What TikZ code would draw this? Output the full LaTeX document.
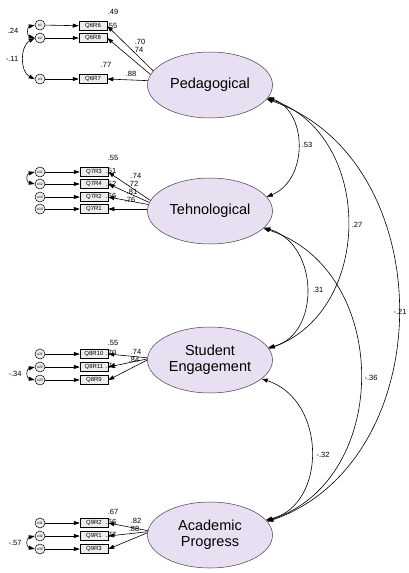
\documentclass[tikz,border=0pt]{standalone}
\usepackage{fontspec}
\setmainfont{Liberation Sans}
\usetikzlibrary{shapes.geometric,arrows.meta}
\definecolor{latfill}{HTML}{E8E0F2}
\definecolor{obsfill}{HTML}{EDEDED}
\begin{document}
\begin{tikzpicture}[x=1pt,y=-1pt,
  lat/.style={ellipse, draw=black!75, line width=0.5pt, fill=latfill, minimum width=125pt, minimum height=66pt, inner sep=0pt, font=\fontsize{14.5}{16}\selectfont, align=center},
  obs/.style={rectangle, draw, line width=0.5pt, fill=obsfill, minimum width=28pt, minimum height=9pt, inner sep=0pt, font=\fontsize{6}{6}\selectfont},
  err/.style={circle, draw, line width=0.5pt, fill=obsfill, minimum size=10pt, inner sep=0pt, font=\fontsize{3.5}{4}\selectfont},
  lbl/.style={font=\fontsize{7.5}{8}\selectfont, inner sep=0pt},
  arr/.style={-{Triangle[length=6pt,width=4pt]}, line width=0.6pt},
  cov/.style={{Triangle[length=6pt,width=4pt]}-{Triangle[length=6pt,width=4pt]}, line width=0.6pt}]
\useasboundingbox (0,0) rectangle (408,573);
\fill[white] (0,0) rectangle (408,573);

% latent variables
\node[lat] (P) at (210,85) {Pedagogical};
\node[lat] (T) at (210,211) {Tehnological};
\node[lat] (S) at (210,360) {Student\\Engagement};
\node[lat] (A) at (210,535) {Academic\\Progress};

% observed variables
\node[obs] (q66) at (93,26) {Q6R6};
\node[obs] (q68) at (93,38) {Q6R8};
\node[obs] (q67) at (93,79) {Q6R7};
\node[obs] (q73) at (94,172) {Q7R3};
\node[obs] (q74) at (94,184) {Q7R4};
\node[obs] (q72) at (94,197) {Q7R2};
\node[obs] (q71) at (94,209) {Q7R1};
\node[obs] (q810) at (94,354) {Q8R10};
\node[obs] (q811) at (94,367) {Q8R11};
\node[obs] (q89) at (94,380) {Q8R9};
\node[obs] (q92) at (94,523) {Q9R2};
\node[obs] (q91) at (94,536) {Q9R1};
\node[obs] (q93) at (94,549) {Q9R3};

% error terms
\node[err] (e1) at (40,25) {e1};
\node[err] (e2) at (40,38) {e2};
\node[err] (e3) at (40,79) {e3};
\node[err] (e11) at (40,172) {e11};
\node[err] (e12) at (40,184) {e12};
\node[err] (e13) at (40,197) {e13};
\node[err] (e14) at (40,209) {e14};
\node[err] (e21) at (40,354) {e21};
\node[err] (e22) at (40,367) {e22};
\node[err] (e23) at (40,380) {e23};
\node[err] (e31) at (40,523) {e31};
\node[err] (e32) at (40,536) {e32};
\node[err] (e33) at (40,549) {e33};

% error -> indicator
\foreach \e/\q in {e1/q66,e2/q68,e3/q67,e11/q73,e12/q74,e13/q72,e14/q71,e21/q810,e22/q811,e23/q89,e31/q92,e32/q91,e33/q93}
  \draw[arr] (\e) -- (\q);

% factor -> indicator
\draw[arr] (P.166) -- (q66.east);
\draw[arr] (P.170) -- (q68.east);
\draw[arr] (P.176) -- (q67.east);
\draw[arr] (T.170) -- (q73.east);
\draw[arr] (T.172) -- (q74.east);
\draw[arr] (T.174) -- (q72.east);
\draw[arr] (T.west |- q71.east) -- (q71.east);
\draw[arr] (S.178) -- (q810.east);
\draw[arr] (S.179) -- (q811.east);
\draw[arr] (S.180) -- (q89.east);
\draw[arr] (A.176) -- (q92.east);
\draw[arr] (A.177) -- (q91.east);
\draw[arr] (A.178) -- (q93.east);

% error covariances
\draw[cov] (e1.west) .. controls (27,27) and (27,36) .. (e2.west);
\draw[cov] (e2.west) .. controls (20,46) and (20,72) .. (e3.west);
\draw[cov] (e11.west) .. controls (26,174) and (26,182) .. (e12.west);
\draw[cov] (e22.west) .. controls (26,369) and (26,378) .. (e23.west);
\draw[cov] (e32.west) .. controls (26,538) and (26,547) .. (e33.west);

% factor covariances
\draw[cov] (P.-12) .. controls (308,112) and (308,180) .. (T.14);
\draw[cov] (P.-13) .. controls (374,135) and (374,310) .. (S.11);
\draw[cov] (P.-14) .. controls (442,160) and (442,460) .. (A.13);
\draw[cov] (T.-17) .. controls (320,245) and (320,335) .. (S.12);
\draw[cov] (T.-18) .. controls (392,270) and (392,480) .. (A.14);
\draw[cov] (S.-20) .. controls (327,400) and (327,505) .. (A.15);

% labels: error covariances
\node[lbl] (l1) at (13,31) {.24};
\node[lbl] (l2) at (12,59) {-.11};
\node[lbl] (l3) at (15,374) {-.34};
\node[lbl] (l4) at (15,543) {-.57};

% labels: R squared
\node[lbl] (r1) at (113,12) {.49};
\node[lbl] (r2) at (112,26) {.55};
\node[lbl] (r3) at (106,65) {.77};
\node[lbl] (r4) at (113,158) {.55};
\node[lbl] (r5) at (111,171) {.51};
\node[lbl] (r6) at (111,184) {.52};
\node[lbl] (r7) at (111,196) {.66};
\node[lbl] (r8) at (113,343) {.55};
\node[lbl] (r9) at (111,353) {.70};
\node[lbl] (r10) at (111,366) {.71};
\node[lbl] (r11) at (113,512) {.67};
\node[lbl] (r12) at (111,522) {.66};
\node[lbl] (r13) at (111,535) {.77};

% labels: loadings
\node[lbl] (w1) at (140,42) {.70};
\node[lbl] (w2) at (138,50) {.74};
\node[lbl] (w3) at (131,74) {.88};
\node[lbl] (w4) at (136,176) {.74};
\node[lbl] (w5) at (133,184) {.72};
\node[lbl] (w6) at (132,192) {.81};
\node[lbl] (w7) at (130,200) {.76};
\node[lbl] (w8) at (136,352) {.74};
\node[lbl] (w9) at (134,360) {.84};
\node[lbl] (w10) at (136,521) {.82};
\node[lbl] (w11) at (134,529) {.88};

% labels: factor covariances
\node[lbl] (c1) at (307,145) {.53};
\node[lbl] (c2) at (357,225) {.27};
\node[lbl] (c3) at (400,312) {-.21};
\node[lbl] (c4) at (318,290) {.31};
\node[lbl] (c5) at (371,378) {-.36};
\node[lbl] (c6) at (323,455) {-.32};
\end{tikzpicture}
\end{document}
